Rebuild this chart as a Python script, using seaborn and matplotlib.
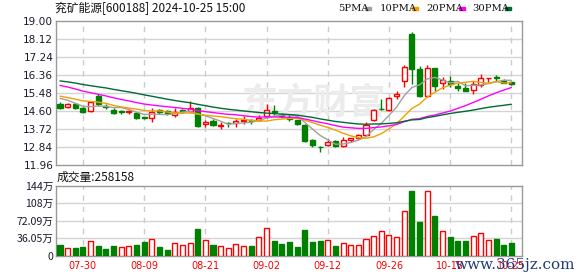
import numpy as np
import pandas as pd
import matplotlib
matplotlib.use("Agg")
import matplotlib.pyplot as plt
import seaborn as sns
from matplotlib.patches import Rectangle

# ---------------- data ----------------
title_text = "兖矿能源[600188] 2024-10-25 15:00"
volume_text = "成交量:258158"

opens = [14.95, 14.79, 14.93, 14.77, 14.58, 15.33, 14.86, 14.67, 14.58, 14.55,
         14.50, 14.31, 14.25, 14.66, 14.58, 14.41, 14.63, 14.60, 14.76, 13.98,
         14.12, 13.86, 14.02, 13.99, 14.11, 14.16, 14.14, 14.38, 14.60, 14.42,
         14.30, 14.14, 13.93, 13.20, 12.86, 12.94, 13.12, 12.88, 13.20, 13.30,
         13.44, 14.14, 14.72, 14.66, 15.35, 16.06, 18.37, 16.64, 15.32, 16.69,
         15.97, 16.05, 15.83, 15.72, 15.62, 15.88, 16.21, 16.28, 16.09, 16.01]
highs = [15.04, 14.97, 15.00, 14.82, 15.10, 15.42, 14.95, 14.74, 14.66, 14.66,
         14.56, 14.33, 14.74, 14.70, 14.65, 14.73, 14.68, 15.10, 14.82, 14.14,
         14.20, 14.06, 14.08, 14.22, 14.35, 14.22, 14.40, 14.96, 14.87, 14.50,
         14.46, 14.17, 13.96, 13.25, 12.90, 13.25, 13.20, 13.35, 13.30, 13.50,
         14.07, 14.72, 15.18, 15.30, 15.60, 16.86, 18.45, 16.80, 16.85, 16.72,
         16.25, 16.29, 15.95, 15.95, 16.08, 16.40, 16.23, 16.35, 16.15, 16.05]
lows = [14.68, 14.77, 14.68, 14.48, 14.55, 14.86, 14.72, 14.43, 14.44, 14.43,
        14.22, 14.23, 14.05, 14.45, 14.42, 14.33, 14.55, 14.50, 13.83, 13.82,
        13.85, 13.74, 13.82, 13.84, 13.95, 13.95, 14.10, 14.25, 14.42, 14.28,
        14.12, 13.90, 13.08, 12.85, 12.58, 12.88, 12.85, 12.85, 13.10, 13.25,
        13.36, 14.10, 14.64, 14.60, 15.19, 15.77, 15.92, 15.28, 15.30, 15.59,
        15.70, 15.79, 15.60, 15.58, 15.43, 15.78, 16.03, 16.07, 15.95, 15.85]
closes = [14.76, 14.93, 14.76, 14.55, 15.05, 14.94, 14.82, 14.48, 14.56, 14.58,
          14.28, 14.25, 14.55, 14.53, 14.50, 14.55, 14.60, 14.76, 13.88, 14.04,
          13.90, 13.92, 14.00, 14.12, 14.14, 14.10, 14.27, 14.67, 14.56, 14.38,
          14.20, 13.95, 13.14, 12.93, 12.83, 13.10, 12.88, 13.20, 13.27, 13.43,
          13.93, 14.66, 14.68, 15.24, 15.43, 16.74, 16.66, 15.32, 16.69, 15.80,
          16.12, 15.92, 15.73, 15.60, 15.92, 16.20, 16.23, 16.20, 15.97, 15.90]
# volume in 万 (10k hands)
volumes = [21.5, 15.3, 16.0, 18.0, 29.8, 19.4, 13.2, 19.4, 17.3, 19.4,
           21.5, 28.4, 33.3, 17.3, 11.8, 25.0, 21.5, 25.0, 54.8, 31.9,
           21.5, 18.7, 16.0, 23.6, 19.4, 19.4, 38.1, 56.9, 29.8, 23.6,
           27.7, 16.6, 52.7, 27.7, 29.8, 31.9, 19.4, 25.0, 20.8, 20.8,
           33.3, 39.5, 50.6, 41.6, 38.1, 92.2, 133.8, 70.0, 133.8, 81.8,
           50.6, 38.1, 30.5, 30.5, 39.5, 46.5, 32.6, 34.7, 21.5, 25.8]
# closes before the visible window (estimated so the moving averages start where the picture shows)
prior_closes = [16.3, 16.5, 16.7, 16.8, 16.6, 16.4, 16.6, 16.5, 16.4, 16.3,
                16.5, 16.6, 16.7, 16.6, 16.5, 16.4, 16.3, 16.2, 16.0, 15.9,
                15.7, 15.5, 15.4, 15.3, 15.3, 15.4, 15.5, 15.3, 15.14]

tick_idx = [3, 11, 19, 27, 35, 43, 51, 59]
tick_labels = ["07-30", "08-09", "08-21", "09-02", "09-12", "09-26", "10-15", "10-25"]

price_ticks = [11.96, 12.84, 13.72, 14.60, 15.48, 16.36, 17.24, 18.12, 19.00]
vol_ticks = [0, 36.045, 72.09, 108.135, 144.18]
vol_tick_labels = ["0", "36.05万", "72.09万", "108万", "144万"]

ma_windows = [5, 10, 20, 30]
ma_names = ["5PMA", "10PMA", "20PMA", "30PMA"]
ma_colors = ["#a0a0a0", "#f0a000", "#ff00ff", "#006a35"]

# ---------------- styling ----------------
sns.set_theme(style="white")
plt.rcParams["font.family"] = ["DejaVu Sans", "Noto Sans CJK SC"]
CJK = ["Noto Sans CJK SC", "DejaVu Sans"]

RED = "#ff0000"
GREEN = "#008000"
GRID = "#d4d4d4"
SPINE = "#999999"

W, H = 578, 276
fig = plt.figure(figsize=(W / 100, H / 100), dpi=100)


def px_axes(left, top, right, bottom):
    return fig.add_axes([left / W, 1 - bottom / H, (right - left) / W, (bottom - top) / H])


ax = px_axes(56, 21, 522, 165)
axv = px_axes(56, 186, 522, 255.5)

n = len(closes)
x = np.arange(n)
o = np.array(opens); c = np.array(closes); hi = np.array(highs); lo = np.array(lows)
up = c >= o

all_close = pd.Series(prior_closes + closes)
df = pd.DataFrame({"x": x})
for w, name in zip(ma_windows, ma_names):
    df[name] = all_close.rolling(w).mean().iloc[-n:].to_numpy()

xlim = (-0.52, 60.39)

# ---------- price panel ----------
ax.vlines(x, lo, hi, colors=[RED if u else GREEN for u in up], linewidth=1, zorder=3)
body_bottom = np.minimum(o, c)
body_h = np.maximum(np.abs(c - o), 0.012)
ax.bar(x, body_h, bottom=body_bottom, width=0.66,
       color=["white" if u else GREEN for u in up],
       edgecolor=[RED if u else GREEN for u in up], linewidth=1, zorder=4)
for name, col in zip(ma_names, ma_colors):
    sns.lineplot(data=df, x="x", y=name, ax=ax, color=col, linewidth=1, zorder=5, legend=False)

ax.set_xlim(*xlim)
ax.set_ylim(price_ticks[0], price_ticks[-1])
ax.set_yticks(price_ticks)
ax.set_yticklabels([f"{t:.2f}" for t in price_ticks], fontsize=7.6, color="#1a1a2e")
ax.set_xticks(tick_idx)
ax.set_xticklabels([])
ax.tick_params(axis="both", length=0, pad=2)
ax.set_xlabel(""); ax.set_ylabel("")
ax.grid(False)
for t in price_ticks[1:-1]:
    ax.axhline(t, color=GRID, linewidth=1, zorder=0)
for t in tick_idx:
    ax.axvline(t, color="#cccccc", linewidth=1, linestyle=(0, (4, 4)), zorder=0)
for s in ax.spines.values():
    s.set_color(SPINE); s.set_linewidth(1)

# watermark
ax.text(0.555, 0.43, "东方财富", transform=ax.transAxes, fontsize=26, color="#ececec",
        fontweight="bold", family=CJK, ha="center", va="center", zorder=0.5)

# ---------- volume panel ----------
prev = np.array([prior_closes[-1]] + closes[:-1])
vup = c >= prev
axv.bar(x, volumes, width=0.66,
        color=["white" if u else GREEN for u in vup],
        edgecolor=[RED if u else GREEN for u in vup], linewidth=1, zorder=3)
axv.set_xlim(*xlim)
axv.set_ylim(0, vol_ticks[-1])
axv.set_yticks(vol_ticks)
axv.set_yticklabels(vol_tick_labels, fontsize=7.6, color="#1a1a2e", family=CJK)
axv.set_xticks(tick_idx)
axv.set_xticklabels(tick_labels, fontsize=7, color=RED)
axv.tick_params(axis="both", length=0, pad=2)
axv.tick_params(axis="x", pad=4)
axv.grid(False)
for t in vol_ticks[1:-1]:
    axv.axhline(t, color=GRID, linewidth=1, zorder=0)
for t in tick_idx:
    axv.axvline(t, color="#cccccc", linewidth=1, linestyle=(0, (4, 4)), zorder=0)
for s in axv.spines.values():
    s.set_color(SPINE); s.set_linewidth(1)

# ---------- header texts ----------
fig.text(55 / W, 1 - 8 / H, title_text, fontsize=8.5, family=CJK, color="#111111",
         ha="left", va="center")
fig.text(57 / W, 1 - 177 / H, volume_text, fontsize=8.5, family=CJK, color="#111111",
         ha="left", va="center")

leg_x = [338, 380, 426, 472]
sq_x = [365, 412, 459, 505]
for name, col, lx, sx in zip(ma_names, ma_colors, leg_x, sq_x):
    fig.text(lx / W, 1 - 8.5 / H, name, fontsize=7.2, family="DejaVu Serif",
             color="#111111", ha="left", va="center")
    fig.patches.append(Rectangle((sx / W, 1 - 10 / H), 6 / W, 3 / H,
                                 transform=fig.transFigure, color=col, figure=fig))

fig.text(455 / W, 1 - 265 / H, "www.365jz.com", fontsize=11, family="DejaVu Serif",
         color="#1f3c7a", ha="left", va="center", zorder=10)

fig.savefig("out.png", dpi=100)
